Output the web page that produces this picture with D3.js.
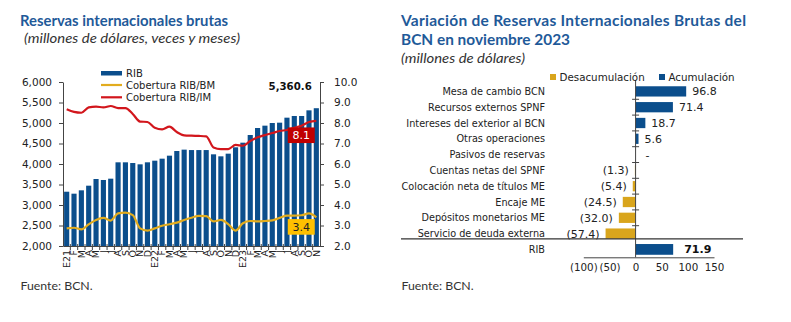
<!DOCTYPE html>
<html>
<head>
<meta charset="utf-8">
<script src="https://cdn.jsdelivr.net/npm/d3@7"></script>
<style>
  body { margin: 0; background: #fff; }
  svg { display: block; }
</style>
</head>
<body>
<svg id="chart" width="791" height="322"></svg>
<script>
// monthly reserves, jan 2021 - nov 2023
const months = ["E21", "F", "M", "A", "M", "J", "J", "A", "S", "O", "N", "D",
  "E22", "F", "M", "A", "M", "J", "J", "A", "S", "O", "N", "D",
  "E23", "F", "M", "A", "M", "J", "J", "A", "S", "O", "N"];
const rib = [3324, 3276, 3358, 3471, 3634, 3610, 3642, 4041, 4041, 4024, 3992, 4041,
  4081, 4130, 4203, 4317, 4350, 4340, 4340, 4340, 4236, 4187, 4252, 4407,
  4520, 4707, 4878, 4935, 5000, 5008, 5130, 5171, 5171, 5309, 5360.6];
const cobBM = [2.86, 2.89, 2.81, 3.06, 3.27, 3.37, 3.24, 3.59, 3.63, 3.51, 2.86, 2.75,
  2.86, 2.99, 3.06, 3.14, 3.27, 3.38, 3.47, 3.46, 3.2, 3.27, 3.07, 2.75,
  3.11, 3.22, 3.2, 3.22, 3.25, 3.37, 3.48, 3.48, 3.5, 3.59, 3.4];
const cobIM = [8.67, 8.54, 8.5, 8.76, 8.8, 8.76, 8.83, 8.73, 8.73, 8.44, 8.07, 8.05,
  7.77, 7.69, 7.82, 7.56, 7.4, 7.38, 7.37, 7.35, 6.81, 6.73, 6.73, 6.93,
  6.89, 7.12, 7.3, 7.41, 7.51, 7.61, 7.66, 7.77, 7.87, 8.05, 8.1];
const leftTicks = [2000, 2500, 3000, 3500, 4000, 4500, 5000, 5500, 6000];
const rightTicks = [2, 3, 4, 5, 6, 7, 8, 9, 10];
const legendLeft = ["RIB", "Cobertura RIB/BM", "Cobertura RIB/IM"];

// november 2023 variation by source
const categories = ["Mesa de cambio BCN", "Recursos externos SPNF", "Intereses del exterior al BCN",
  "Otras operaciones", "Pasivos de reservas", "Cuentas netas del SPNF",
  "Colocación neta de títulos ME", "Encaje ME", "Depósitos monetarios ME", "Servicio de deuda externa"];
const variations = [96.8, 71.4, 18.7, 5.6, 0, -1.3, -5.4, -24.5, -32.0, -57.4];
const ribTotal = 71.9;
const valueTicks = [-100, -50, 0, 50, 100, 150];
const legendRight = ["Desacumulación", "Acumulación"];

const BLUE = "#0B4E8C";
const GOLD = "#E2AC1E";
const RED = "#D2161C";
const BAR_GOLD = "#D9A51C";
const TITLE = "#1F5A99";
const INK = "#222";
const AXIS = "#444";
const mono = "'DejaVu Sans', Verdana, sans-serif";
const head = "Lato, 'Open Sans', sans-serif";

const svg = d3.select("#chart");

function addText(x, y, str, size, opts) {
  opts = opts || {};
  const t = svg.append("text")
    .attr("x", x)
    .attr("y", y)
    .style("font-family", opts.family || mono)
    .style("font-size", size + "px")
    .style("fill", opts.fill || INK)
    .text(str);
  if (opts.weight) t.style("font-weight", opts.weight);
  if (opts.italic) t.style("font-style", "italic");
  if (opts.anchor) t.attr("text-anchor", opts.anchor);
  if (opts.length) t.attr("textLength", opts.length).attr("lengthAdjust", opts.adjust || "spacingAndGlyphs");
  return t;
}

function styleAxis(g, size) {
  g.selectAll("path, line").attr("stroke", AXIS);
  g.selectAll("text")
    .style("font-family", mono)
    .style("font-size", size + "px")
    .style("fill", INK);
}

// ---------- left: reserves and coverage ----------
addText(20, 26, "Reservas internacionales brutas", 15.5, { family: head, weight: 700, fill: TITLE, length: 208 });
addText(24, 43, "(millones de dólares, veces y meses)", 12.5, { family: head, italic: true, fill: "#333", length: 216 });

const x = d3.scaleBand()
  .domain(d3.range(months.length))
  .range([63, 320])
  .paddingInner(0.3)
  .paddingOuter(0.15);
const yL = d3.scaleLinear().domain([2000, 6000]).range([246, 82]);
const yR = d3.scaleLinear().domain([2, 10]).range([246, 82]);

svg.append("g")
  .selectAll("rect")
  .data(rib)
  .join("rect")
  .attr("x", (d, i) => x(i))
  .attr("y", d => yL(d))
  .attr("width", x.bandwidth())
  .attr("height", d => yL(2000) - yL(d))
  .attr("fill", BLUE);

const line = d3.line()
  .x((d, i) => x(i) + x.bandwidth() / 2)
  .y(d => yR(d))
  .curve(d3.curveMonotoneX);

svg.append("path").attr("d", line(cobBM)).attr("fill", "none").attr("stroke", GOLD).attr("stroke-width", 2.2);
svg.append("path").attr("d", line(cobIM)).attr("fill", "none").attr("stroke", RED).attr("stroke-width", 2.2);

// axes
const gl = svg.append("g").attr("transform", "translate(63,0)")
  .call(d3.axisLeft(yL).tickValues(leftTicks).tickFormat(d3.format(",")).tickSize(4).tickSizeOuter(0).tickPadding(7));
styleAxis(gl, 10.5);

const gr = svg.append("g").attr("transform", "translate(320,0)")
  .call(d3.axisRight(yR).tickValues(rightTicks).tickFormat(d3.format(".1f")).tickSize(4).tickSizeOuter(0).tickPadding(10));
styleAxis(gr, 10.5);

const gb = svg.append("g").attr("transform", "translate(0,246)")
  .call(d3.axisBottom(x).tickFormat(i => months[i]).tickSize(0).tickSizeOuter(0));
styleAxis(gb, 9.5);
gb.selectAll("text")
  .attr("transform", "rotate(-90)")
  .attr("x", -4)
  .attr("y", 0)
  .attr("dy", "0.35em")
  .style("text-anchor", "end");

// small ticks between months
const gap = x.step() * x.paddingInner() / 2;
svg.append("g")
  .selectAll("line")
  .data(d3.range(1, months.length))
  .join("line")
  .attr("x1", i => x(i) - gap)
  .attr("x2", i => x(i) - gap)
  .attr("y1", 244)
  .attr("y2", 250)
  .attr("stroke", AXIS);

// legend
svg.append("rect").attr("x", 101).attr("y", 71).attr("width", 21).attr("height", 4.5).attr("fill", BLUE);
svg.append("line").attr("x1", 101).attr("x2", 122).attr("y1", 85).attr("y2", 85).attr("stroke", GOLD).attr("stroke-width", 2.2);
svg.append("line").attr("x1", 101).attr("x2", 122).attr("y1", 97.3).attr("y2", 97.3).attr("stroke", RED).attr("stroke-width", 2.2);
legendLeft.forEach((s, i) => addText(126, 77 + i * 12.2, s, 10));

// last values
const last = months.length - 1;
addText(x(last) - 2, 89.5, d3.format(",.1f")(rib[last]), 10.2, { weight: 700, anchor: "end", fill: "#111" });

const boxes = [
  { value: cobIM[last], fill: "#C00000", ink: "#fff", dy: 6.5 },
  { value: cobBM[last], fill: "#FFC000", ink: INK, dy: 1.8 }
];
boxes.forEach(b => {
  const bx = x(last) + 1 - 27;
  const by = yR(b.value) + b.dy;
  svg.append("rect").attr("x", bx).attr("y", by).attr("width", 27).attr("height", 15.6).attr("fill", b.fill);
  addText(bx + 13.5, by + 12, d3.format(".1f")(b.value), 11, { anchor: "middle", fill: b.ink });
});

addText(20.5, 290, "Fuente: BCN.", 12.3, { family: head, fill: "#333" });

// ---------- right: variation in november ----------
addText(401, 26, "Variación de Reservas Internacionales Brutas del", 15.5,
  { family: head, weight: 700, fill: TITLE, length: 345, adjust: "spacing" });
addText(401, 44.5, "BCN en noviembre 2023", 15.5, { family: head, weight: 700, fill: TITLE, length: 169 });
addText(401, 63, "(millones de dólares)", 12.5, { family: head, italic: true, fill: "#333", length: 124 });

const xV = d3.scaleLinear().domain([-100, 150]).range([583.3, 714]);
const yC = d3.scaleBand().domain(categories).range([83.5, 241.5]).paddingInner(0.35).paddingOuter(0.175);
const yT = d3.scaleBand().domain(["RIB"]).range([241.5, 257.3]).paddingInner(0.32).paddingOuter(0.16);

const rows = categories.map((c, i) => ({ name: c, value: variations[i] }));

svg.append("g")
  .selectAll("rect")
  .data(rows)
  .join("rect")
  .attr("x", d => xV(Math.min(0, d.value)))
  .attr("y", d => yC(d.name))
  .attr("width", d => Math.abs(xV(d.value) - xV(0)))
  .attr("height", yC.bandwidth())
  .attr("fill", d => d.value < 0 ? BAR_GOLD : BLUE);

svg.append("rect")
  .attr("x", xV(0))
  .attr("y", yT("RIB"))
  .attr("width", xV(ribTotal) - xV(0))
  .attr("height", yT.bandwidth())
  .attr("fill", BLUE);

// category names
rows.forEach(d => addText(545, yC(d.name) + yC.bandwidth() / 2 + 3.5, d.name, 9.7, { anchor: "end" }));
addText(545, yT("RIB") + yT.bandwidth() / 2 + 3.5, "RIB", 9.7, { anchor: "end" });

// value labels
function fmtValue(v) {
  if (v === 0) return "-";
  return v < 0 ? "(" + Math.abs(v).toFixed(1) + ")" : v.toFixed(1);
}
rows.forEach(d => {
  const cy = yC(d.name) + yC.bandwidth() / 2 + 4;
  if (d.value < 0) addText(xV(d.value) - 6, cy, fmtValue(d.value), 11, { anchor: "end" });
  else if (d.value > 0) addText(xV(d.value) + 6, cy, fmtValue(d.value), 11);
  else addText(xV(0) + 10, cy, fmtValue(d.value), 11);
});
addText(xV(ribTotal) + 11, yT("RIB") + yT.bandwidth() / 2 + 4, ribTotal.toFixed(1), 11, { weight: 700, fill: "#111" });

// zero axis with ticks between rows
svg.append("line").attr("x1", xV(0)).attr("x2", xV(0)).attr("y1", 80).attr("y2", 257.3).attr("stroke", AXIS);
const rowGap = yC.step() * yC.paddingInner() / 2;
svg.append("g")
  .selectAll("line")
  .data(categories.slice(1))
  .join("line")
  .attr("x1", xV(0) - 3.5)
  .attr("x2", xV(0) + 3.5)
  .attr("y1", c => yC(c) - rowGap)
  .attr("y2", c => yC(c) - rowGap)
  .attr("stroke", AXIS);

// divider above the total
svg.append("line").attr("x1", 401).attr("x2", 743).attr("y1", 238.8).attr("y2", 238.8).attr("stroke", "#333").attr("stroke-width", 1.2);

const gv = svg.append("g").attr("transform", "translate(0,257.3)")
  .call(d3.axisBottom(xV).tickValues(valueTicks)
    .tickFormat(v => v < 0 ? "(" + Math.abs(v) + ")" : v)
    .tickSize(0).tickSizeOuter(0).tickPadding(6));
styleAxis(gv, 10.3);
gv.selectAll(".tick line").remove();

// legend
legendRight.forEach((s, i) => {
  const lx = i === 0 ? 550 : 659;
  svg.append("rect").attr("x", lx).attr("y", 74).attr("width", 6).attr("height", 6).attr("fill", i === 0 ? BAR_GOLD : BLUE);
  addText(lx + 9.5, 80.5, s, 10.3);
});

addText(401.5, 290, "Fuente: BCN.", 12.3, { family: head, fill: "#333" });
</script>
</body>
</html>
